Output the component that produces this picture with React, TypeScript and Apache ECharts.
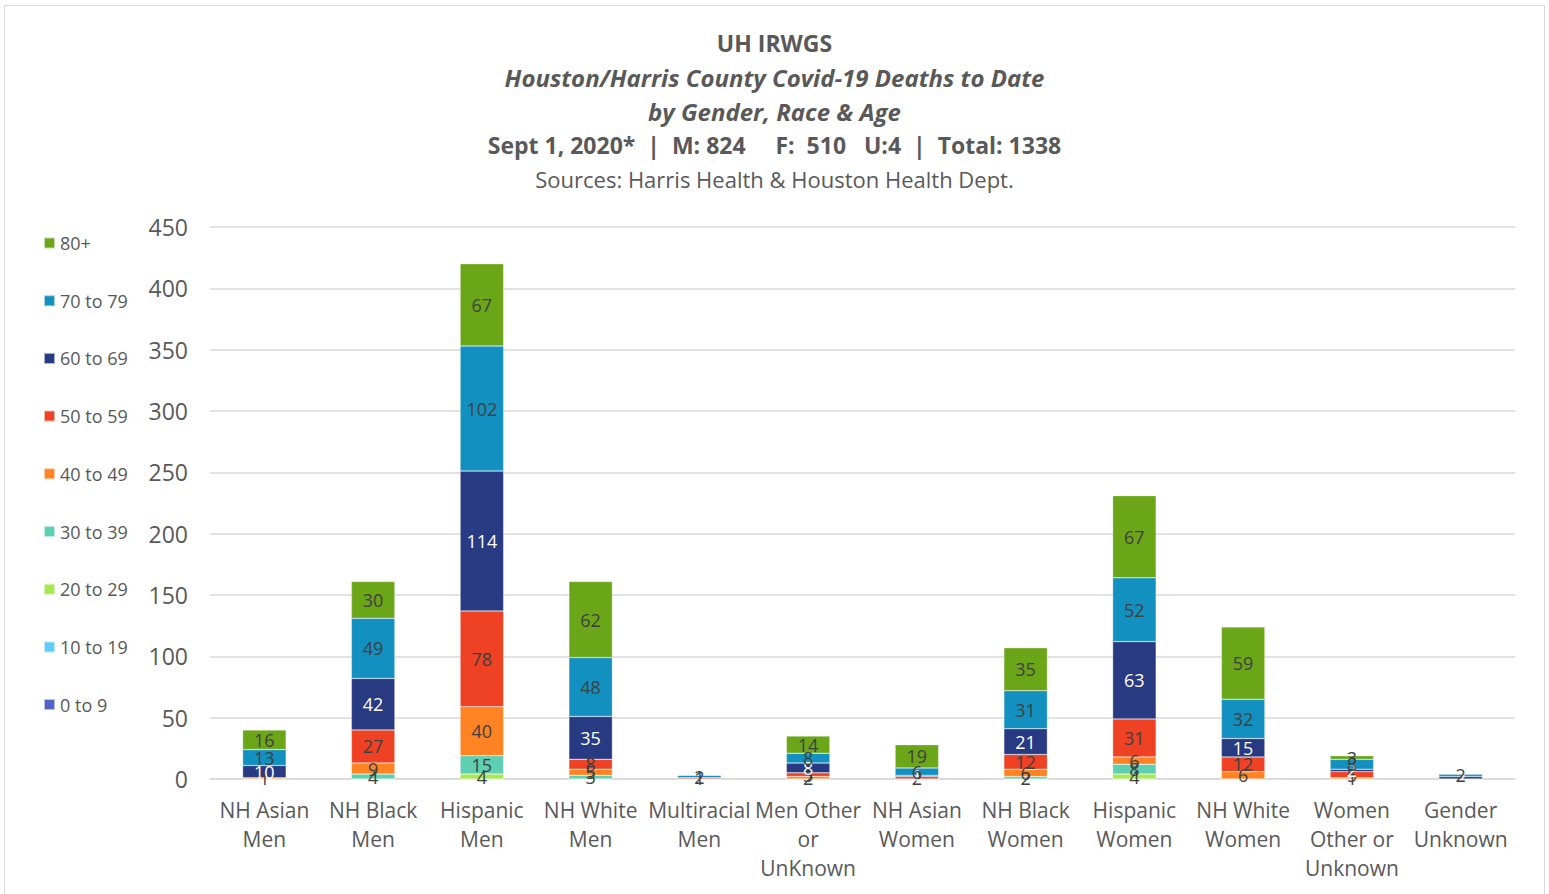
import React, { useEffect, useRef } from "react";
import * as echarts from "echarts";

const categories = [
  "NH Asian\nMen",
  "NH Black\nMen",
  "Hispanic\nMen",
  "NH White\nMen",
  "Multiracial\nMen",
  "Men Other\nor\nUnKnown",
  "NH Asian\nWomen",
  "NH Black\nWomen",
  "Hispanic\nWomen",
  "NH White\nWomen",
  "Women\nOther or\nUnknown",
  "Gender\nUnknown",
];

const ageGroups = ["0 to 9", "10 to 19", "20 to 29", "30 to 39", "40 to 49", "50 to 59", "60 to 69", "70 to 79", "80+"];

const age0to9 = [0, 0, 0, 0, 0, 0, 0, 0, 0, 0, 0, 0];
const age10to19 = [0, 0, 0, 0, 0, 0, 0, 0, 0, 0, 0, 0];
const age20to29 = [0, 0, 4, 0, 0, 0, 0, 0, 4, 0, 0, 0];
const age30to39 = [0, 4, 15, 3, 0, 0, 0, 2, 8, 0, 0, 0];
const age40to49 = [1, 9, 40, 5, 0, 2, 0, 6, 6, 6, 1, 0];
const age50to59 = [0, 27, 78, 8, 1, 3, 2, 12, 31, 12, 5, 0];
const age60to69 = [10, 42, 114, 35, 0, 8, 1, 21, 63, 15, 2, 2];
const age70to79 = [13, 49, 102, 48, 2, 8, 6, 31, 52, 32, 8, 2];
const age80plus = [16, 30, 67, 62, 0, 14, 19, 35, 67, 59, 3, 0];

const yTicks = { min: 0, max: 450, interval: 50 };

const seriesValues = [age0to9, age10to19, age20to29, age30to39, age40to49, age50to59, age60to69, age70to79, age80plus];
const colors = ["#4F64C6", "#5DCDF5", "#A6E84F", "#5ECFB1", "#FF8323", "#EF4123", "#283A82", "#1290C0", "#6BA619"];

const FONT = "'Open Sans', sans-serif";
const GREY = "#595959";

export default function App() {
  const ref = useRef<HTMLDivElement>(null);
  useEffect(() => {
    const chart = echarts.init(ref.current!, null, { renderer: "svg" });
    const series = ageGroups.map((name, i) => ({
      name,
      type: "bar",
      stack: "total",
      barWidth: "40%",
      data: seriesValues[i],
      itemStyle: { color: colors[i], borderColor: "rgba(255,255,255,0.6)", borderWidth: 0.5 },
      label: {
        show: true,
        position: "inside",
        fontSize: 18,
        fontFamily: FONT,
        color: name === "60 to 69" ? "#ffffff" : "#404040",
        formatter: (p: any) => (p.value > 0 ? String(p.value) : ""),
      },
    }));
    chart.setOption({
      animation: false,
      backgroundColor: "transparent",
      textStyle: { fontFamily: FONT },
      title: [
        { text: "UH IRWGS", left: "center", top: 26, textStyle: { fontSize: 23, fontWeight: "bold", color: GREY, fontFamily: FONT } },
        { text: "Houston/Harris County Covid-19 Deaths to Date", left: "center", top: 60, textStyle: { fontSize: 24, fontWeight: "bold", fontStyle: "italic", color: GREY, fontFamily: FONT } },
        { text: "by Gender, Race & Age", left: "center", top: 94, textStyle: { fontSize: 24, fontWeight: "bold", fontStyle: "italic", color: GREY, fontFamily: FONT } },
        { text: "Sept 1, 2020*  |  M: 824     F:  510   U:4  |  Total: 1338", left: "center", top: 128, textStyle: { fontSize: 23, fontWeight: "bold", color: GREY, fontFamily: FONT } },
        { text: "Sources: Harris Health & Houston Health Dept.", left: "center", top: 163, textStyle: { fontSize: 22, fontWeight: "normal", color: GREY, fontFamily: FONT } },
      ],
      legend: {
        orient: "vertical",
        left: 38,
        top: 229,
        itemWidth: 11,
        itemHeight: 11,
        itemGap: 39.7,
        icon: "rect",
        data: [...ageGroups].reverse(),
        textStyle: { fontSize: 18, color: GREY, fontFamily: FONT, lineHeight: 18 },
      },
      grid: { left: 210, right: 34, top: 227, bottom: 115, containLabel: false },
      xAxis: {
        type: "category",
        data: categories,
        axisLine: { lineStyle: { color: "#D9D9D9", width: 1.5 } },
        axisTick: { show: false },
        axisLabel: { fontSize: 21, color: GREY, lineHeight: 29, margin: 16, interval: 0, fontFamily: FONT },
      },
      yAxis: {
        type: "value",
        min: yTicks.min,
        max: yTicks.max,
        interval: yTicks.interval,
        axisLine: { show: false },
        axisTick: { show: false },
        axisLabel: { fontSize: 23, color: GREY, margin: 22, fontFamily: FONT },
        splitLine: { lineStyle: { color: "#D9D9D9", width: 1.5 } },
      },
      series,
    });
    return () => chart.dispose();
  }, []);
  return (
    <div style={{ position: "fixed", left: 0, top: 0, width: 1549, height: 894, background: "#fff" }}>
      <div style={{ position: "absolute", left: 4, top: 5, width: 1541, height: 900, border: "1px solid #D9D9D9", boxSizing: "border-box" }} />
      <div ref={ref} style={{ position: "absolute", left: 0, top: 0, width: 1549, height: 894 }} />
    </div>
  );
}
